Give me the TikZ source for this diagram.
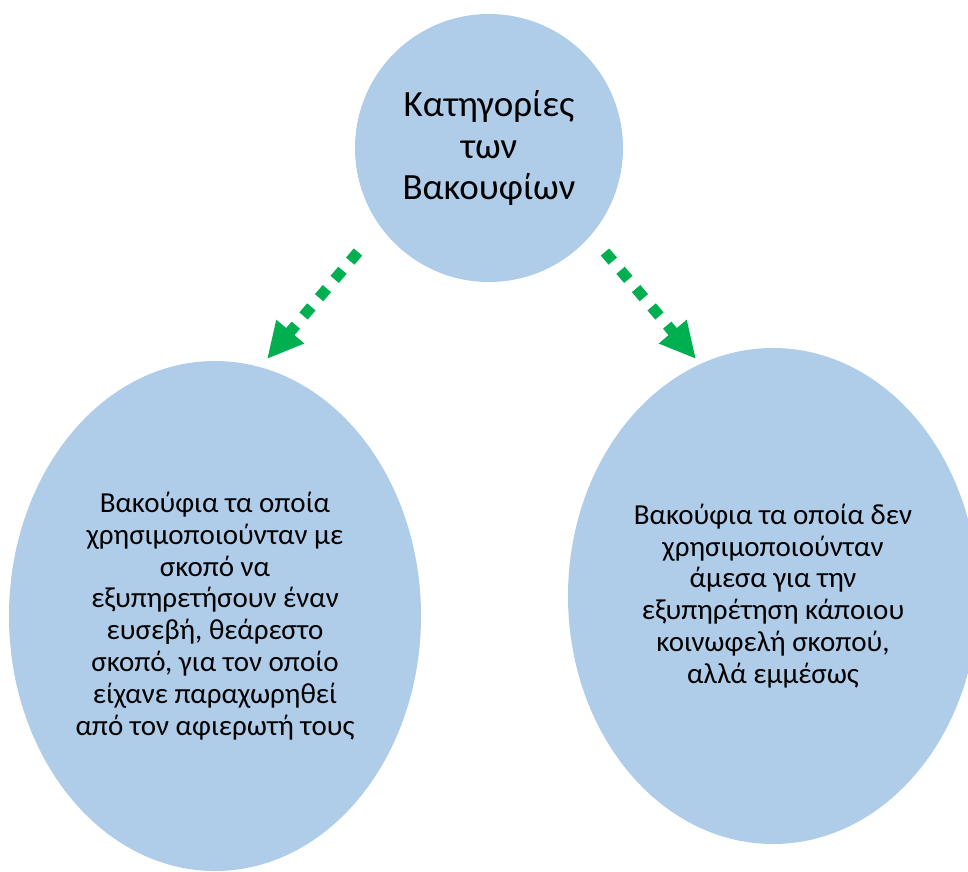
\documentclass[tikz,border=0pt]{standalone}
\usepackage{fontspec}
\setmainfont{Carlito}
\usetikzlibrary{arrows.meta,shapes.geometric}
\definecolor{lightblue}{RGB}{175,204,233}
\definecolor{darkgreen}{RGB}{0,176,80}

\begin{document}
\begin{tikzpicture}[x=1pt,y=-1pt,
    blob/.style={fill=lightblue,align=center,inner sep=0pt,font=\fontsize{29}{31.8}\selectfont},
    link/.style={darkgreen,line width=11pt,dash pattern=on 12pt off 12pt,
                 -{Triangle[length=36pt,width=34pt]}}]
    	% border
    	\useasboundingbox (0,0) rectangle (968,871);
    	\clip (0,0) rectangle (968,871);
    	% top circle
    	\node[blob,circle,minimum size=268pt,font=\fontsize{37}{41.7}\selectfont] (cat) at (489,148)
    	    {Κατηγορίες\\ των\\ Βακουφίων};
    	% left ellipse
    	\node[blob,ellipse,minimum width=412pt,minimum height=510pt] (pious) at (215,616)
    	    {Βακούφια τα οποία\\ χρησιμοποιούνταν με\\ σκοπό να\\ εξυπηρετήσουν έναν\\ ευσεβή, θεάρεστο\\ σκοπό, για τον οποίο\\ είχανε παραχωρηθεί\\ από τον αφιερωτή τους};
    	% right ellipse
    	\node[blob,ellipse,minimum width=410pt,minimum height=496pt] (indirect) at (773,596)
    	    {Βακούφια τα οποία δεν\\ χρησιμοποιούνταν\\ άμεσα για την\\ εξυπηρέτηση κάποιου\\ κοινωφελή σκοπού,\\ αλλά εμμέσως};
    	% arrow ends
    	\coordinate (catL) at (358,252);
    	\coordinate (catR) at (605,252);
    	\coordinate (piousTop) at (267,359);
    	\coordinate (indirectTop) at (696,359);
    	% dotted arrows
    	\draw[link] (catL) -- (piousTop);
    	\draw[link] (catR) -- (indirectTop);
\end{tikzpicture}
\end{document}
